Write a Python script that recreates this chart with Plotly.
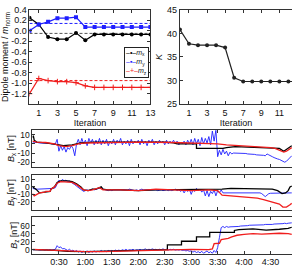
import numpy as np
import plotly.graph_objects as go

# ---------------- data ----------------
iterations = list(range(0, 14))
mx = [0.25, 0.12, -0.12, -0.16, -0.16, -0.04, -0.18, -0.07, -0.07, -0.07, -0.07, -0.07, -0.07, -0.07]
my = [0.0, 0.12, 0.17, 0.24, 0.24, 0.26, 0.07, 0.07, 0.07, 0.07, 0.07, 0.07, 0.07, 0.07]
mz = [-1.2, -0.91, -0.95, -0.97, -0.97, -0.99, -1.05, -1.08, -1.08, -1.08, -1.08, -1.08, -1.08, -1.08]
ref_mx, ref_my, ref_mz = -0.05, 0.14, -0.95
K = [40.8, 37.8, 37.5, 37.5, 37.5, 37.0, 30.6, 29.8, 29.8, 29.8, 29.8, 29.8, 29.8, 29.8]
legend_names = ["<i>m</i><sub>x</sub>", "<i>m</i><sub>y</sub>", "<i>m</i><sub>z</sub>"]

# time in minutes
bx_black_t = [0, 1, 2, 5, 15, 25, 30, 35, 45, 55, 70, 100, 130, 150, 160, 164, 186, 186, 216, 220, 230, 250, 270, 280, 285, 290, 294]
bx_black_v = [7, 9, 4, 2, 1, 0, -1, -2, -1, 1, 2, 2, 2, 2, 1, 0, 0, -5, -5, -4, -3, -3.5, -4, -5, -8, -5, -2]
bx_red_t = [0, 5, 15, 25, 30, 38, 45, 52, 60, 80, 120, 160, 190, 210, 220, 240, 250, 260, 270, 275, 280, 285, 288, 292, 294]
bx_red_v = [3, 2, 1.5, 0, -2, -3, -2, 0, 1, 1.5, 2, 1.5, 1, 0, -1, -2, -3, -3, -4, -5, -7, -9, -8, -5, -4]
bx_blue_v = [2, 2, 1.5, 1.5, 1, 1, 1, 1, 0.5, 0.5, 0.5, 0, 0, 0,
             5, -8, -2, -7, -3, -9, -4, -6, -2, -5,
             -13, 0, 5, -1, 6, 0, 4, -2, 6, 1,
             5, -1, 4, 0, 6, -1, 4, 0, 5, -2,
             3, 0, 5, -1, 4, 1, 6, -1, 3, 0,
             4, -2, 5, 0, 3, 1, 4, -1, 5, 0,
             3, -2, 4, 1, 5, -1, 3, 0, 4, 1,
             3, -1, 4, 0, 3, 1, 4, 0, 3, -1,
             2, 0, 3, -1, 4, 0, 5, -1, 6, 0,
             5, -2, 7, 0, 6, 1, 8, -1, 14, 3,
             15,
             -14, -7, -12, -6, -11, -8, -13, -9, -11, -10, -10,
             -10, -10, -10, -10, -10.5, -10.5, -11, -11, -11, -11.5, -11.5, -12, -12, -12, -12.5, -12.5,
             -13, -11, -12, -13.5, -14, -15, -16, -16.5, -17, -18, -19, -20, -19, -17, -15, -13]

by_black_t = [0, 4, 8, 14, 15, 20, 21, 25, 28, 32, 40, 45, 50, 55, 58, 63, 68, 72, 76, 78, 80, 85, 100, 120, 140, 160, 180, 200, 215, 225, 240, 255, 265, 272, 278, 283, 287, 290, 292, 294]
by_black_v = [0, -3, -8, -7, -6, -6, -3, 0, 6, 8, 8, 7, 4, 0, -4, -5, -3, -3, -1, 0, -3, -4, -4, -5, -4, -4, -4, -3, -3, -2, -2, -2, -2, -3, -5, -9, -8, -5, 0, 1]
by_red_t = [0, 2, 5, 8, 14, 15, 20, 21, 25, 28, 32, 40, 45, 50, 55, 58, 63, 68, 76, 80, 100, 120, 140, 160, 180, 200, 210, 215, 225, 235, 245, 255, 262, 268, 274, 280, 284, 288, 292, 294]
by_red_v = [-9, -12, -10, -8, -7, -6, -6, -3, 0, 5, 7, 7, 6, 3, -1, -4, -5, -4, -1, -4, -4, -5, -3, -4, -5, -4, -5, -11, -12, -13, -14, -15, -17, -19, -21, -23, -27, -27, -24, -22]
by_blue_v = [-2, -3, -3, -3, -3, -3, -3, -3, -3, -3, -3, -3, -2, -1,
             4, 9, 7, 10, 8, 9, 7, 8, 6, 5, 3, 1, -1, -3, -5, -6, -5, -4, -5, -4, -3, -4, -3, -2, -1, -1, -3, -4,
             -4, -5, -4, -5, -4, -4, -5, -4, -5, -4, -4, -5, -4, -3, -4, -4, -5, -4, -5, -4,
             -3, -4, -4, -3, -4, -4, -3, -4, -4, -5, -4, -4, -5, -4, -4, -5, -4, -5, -4, -3, -5, -4, -6, -4,
             -8, -4, -6, -3, -10, -4, -6, -2, -5, -3, -7, -4, -12, -5, -13, -6, -9, -4, -12, -5, -8, -4, -8,
             -8, -8, -8, -7.5, -7.5, -7.5, -7, -7, -7, -7, -7, -7, -7.5, -7.5, -7.5, -8, -8, -8, -8, -8, -8,
             -9, -11, -13, -11, -9, -8.5, -8.5, -8.5, -9, -9, -9, -9, -9, -9, -9, -8.5, -8, -8]

bz_black_t = [0, 10, 20, 30, 40, 60, 80, 100, 120, 140, 153, 153, 169, 169, 186, 186, 201, 201, 229, 229, 234, 250, 265, 280, 290, 294]
bz_black_v = [0, 0, -1, -2, -4, -5, -4, -3, -2, -1, 0, 12, 12, 21, 21, 32, 32, 43, 43, 48, 50, 52, 49, 51, 53, 56]
bz_red_t = [0, 10, 30, 40, 60, 80, 100, 120, 140, 160, 180, 200, 204, 206, 212, 214, 222, 226, 232, 240, 250, 260, 270, 280, 290, 294]
bz_red_v = [1, 0, -2, -4, -5, -5, -4, -2, -1, 0, 1, 0, 2, 15, 16, 25, 28, 32, 36, 38, 40, 39, 40, 41, 40, 38]
bz_blue_v = [0, 0, 1, 0, -1, 0, 0, -1, 0, -1, 0, -1, 0, 1,
             10, 5, 7, 2, 3, 0, -2, 1, -3, -1,
             -5, -2, -6, -3, -7, -4, -6, -3, -7, -4,
             -6, -3, -6, -4, -5, -2, -5, -3, -5, -2,
             -4, -2, -4, -1, -3, -1, -3, 0, -2, 1,
             -2, 0, -1, 1, -2, 0, -1, 1, -1, 0,
             2, -1, 1, 0, 2, 0, 1, -1, 1, 0,
             2, 0, 1, -1, 1, 0, 1, -1, 0, -1,
             0, -2, -1, -3, -2, -4, -3, -6, -4, -7,
             -5, -8, -4, -9, -6, -3, -8, -5, -9, -2,
             -7,
             5, 30, 55, 58, 55, 58, 56, 57, 57, 57, 58, 58, 58, 59, 59, 60, 60, 60, 61, 61, 61, 61,
             62, 62, 62, 62, 62, 63, 63, 62, 63, 63, 64, 64, 64, 65, 64, 65, 66, 65, 66, 66, 67]
blue_step = 2  # minutes between blue samples

time_tickvals = [30, 60, 90, 120, 150, 180, 210, 240, 270]
time_ticktext = ["0:30", "1:00", "1:30", "2:00", "2:30", "3:00", "3:30", "4:00", "4:30"]

# ---------------- styles ----------------
BLACK = "#000000"
BLUE = "#1f1fff"
RED = "#f01e1e"
FONT = "Arial, Liberation Sans, sans-serif"
W, H = 297, 269


def px_x(a, b):
    return [a / W, b / W]


def px_y(top, bottom):
    return [1 - bottom / H, 1 - top / H]


fig = go.Figure()

# ---- top-left: dipole moments ----
for v, col in [(ref_mx, "#555555"), (ref_my, BLUE), (ref_mz, RED)]:
    fig.add_trace(go.Scatter(x=[iterations[0], iterations[-1]], y=[v, v], mode="lines",
                             line=dict(color=col, width=1, dash="3px,2px"),
                             showlegend=False, hoverinfo="skip", xaxis="x", yaxis="y"))
fig.add_trace(go.Scatter(x=iterations, y=mx, mode="lines+markers", showlegend=False,
                         line=dict(color=BLACK, width=1.2), marker=dict(symbol="circle", size=4, color=BLACK),
                         xaxis="x", yaxis="y"))
fig.add_trace(go.Scatter(x=iterations, y=my, mode="lines+markers", showlegend=False,
                         line=dict(color=BLUE, width=1.2), marker=dict(symbol="square", size=4, color=BLUE),
                         xaxis="x", yaxis="y"))
fig.add_trace(go.Scatter(x=iterations, y=mz, mode="lines+markers", showlegend=False,
                         line=dict(color=RED, width=1.2),
                         marker=dict(symbol="cross-thin", size=4, color=RED, line=dict(color=RED, width=1)),
                         xaxis="x", yaxis="y"))

# ---- top-right: K ----
fig.add_trace(go.Scatter(x=iterations, y=K, mode="lines+markers", showlegend=False,
                         line=dict(color="#222222", width=1.2), marker=dict(symbol="circle", size=4, color="#222222"),
                         xaxis="x2", yaxis="y2"))

# ---- bottom: field components ----
panels = [
    ("3", bx_blue_v, bx_black_t, bx_black_v, bx_red_t, bx_red_v),
    ("4", by_blue_v, by_black_t, by_black_v, by_red_t, by_red_v),
    ("5", bz_blue_v, bz_black_t, bz_black_v, bz_red_t, bz_red_v),
]
for ax, bv, kt, kv, rt, rv in panels:
    bt = list(np.arange(len(bv)) * blue_step)
    fig.add_trace(go.Scatter(x=bt, y=bv, mode="lines", line=dict(color=BLUE, width=0.9),
                             showlegend=False, xaxis="x" + ax, yaxis="y" + ax))
    fig.add_trace(go.Scatter(x=kt, y=kv, mode="lines", line=dict(color=BLACK, width=1.3),
                             showlegend=False, xaxis="x" + ax, yaxis="y" + ax))
    fig.add_trace(go.Scatter(x=rt, y=rv, mode="lines", line=dict(color=RED, width=1.3),
                             showlegend=False, xaxis="x" + ax, yaxis="y" + ax))

# compact legend box (text based)
samples = [(BLACK, "–•–"), (BLUE, "–▪–"), (RED, "–+–")]
legend_text = "<br>".join(
    f'<span style="color:{c}">{s}</span><span style="color:#111111">{n}</span>'
    for (c, s), n in zip(samples, legend_names))
fig.add_annotation(x=152 / W, y=1 - 44 / H, xref="paper", yref="paper", xanchor="right", yanchor="top",
                   text=legend_text, showarrow=False, align="left",
                   font=dict(family=FONT, size=7, color="#111111"),
                   bgcolor="white", bordercolor="#222222", borderwidth=1, borderpad=1)

tickfont = dict(family=FONT, size=9, color="#111111")
btickfont = dict(family=FONT, size=8.5, color="#111111")
titlefont = dict(family=FONT, size=9, color="#111111")
common = dict(showline=True, linecolor="#333333", linewidth=1, ticks="inside", ticklen=3,
              tickcolor="#333333", showgrid=False, zeroline=False, tickfont=tickfont)
bcommon = dict(common, tickfont=btickfont)

it_ticks = [1, 3, 5, 7, 9, 11, 13]
fig.update_layout(
    width=W, height=H, margin=dict(l=0, r=0, t=0, b=0),
    paper_bgcolor="white", plot_bgcolor="white",
    font=dict(family=FONT, size=9),
    showlegend=False,
    xaxis=dict(domain=px_x(30, 153), range=[0, 13], anchor="y", mirror="ticks",
               tickvals=it_ticks, title=dict(text="Iteration", font=titlefont, standoff=2), **common),
    yaxis=dict(domain=px_y(5, 103), range=[-1.4, 0.4], anchor="x", mirror="ticks",
               tickvals=[0.4, 0.2, 0.0, -0.2, -0.4, -0.6, -0.8, -1.0, -1.2],
               ticktext=["0.4", "0.2", "0.0", "-0.2", "-0.4", "-0.6", "-0.8", "-1.0", "-1.2"],
               title=dict(text="Dipole moment / <i>m</i><sub>norm</sub>", font=titlefont, standoff=2), **common),
    xaxis2=dict(domain=px_x(183, 297), range=[0, 12.4], anchor="y2", mirror="ticks",
                tickvals=it_ticks, title=dict(text="Iteration", font=titlefont, standoff=2), **common),
    yaxis2=dict(domain=px_y(5, 103), range=[25, 45], anchor="x2", mirror=False,
                tickvals=[25, 30, 35, 40, 45],
                title=dict(text="<i>K</i>", font=titlefont, standoff=2), **common),
    xaxis3=dict(domain=px_x(33, 297), range=[0, 294.3], anchor="y3", mirror="ticks",
                tickvals=time_tickvals, showticklabels=False, **common),
    yaxis3=dict(domain=px_y(130, 168), range=[-25, 15], anchor="x3", mirror=False,
                tickvals=[10, 0, -10, -20], ticktext=["10", "0", "-10", "-20"],
                title=dict(text="<i>B</i><sub>x</sub> [nT]", font=titlefont, standoff=1), **bcommon),
    xaxis4=dict(domain=px_x(33, 297), range=[0, 294.3], anchor="y4", mirror="ticks",
                tickvals=time_tickvals, showticklabels=False, **common),
    yaxis4=dict(domain=px_y(176.5, 213), range=[-31, 16], anchor="x4", mirror=False,
                tickvals=[10, 0, -10, -20], ticktext=["10", "0", "-10", "-20"],
                title=dict(text="<i>B</i><sub>y</sub> [nT]", font=titlefont, standoff=1), **bcommon),
    xaxis5=dict(domain=px_x(33, 297), range=[0, 294.3], anchor="y5", mirror="ticks",
                tickvals=time_tickvals, ticktext=time_ticktext, **common),
    yaxis5=dict(domain=px_y(220, 258.3), range=[-10, 82], anchor="x5", mirror=False,
                tickvals=[60, 40, 20, 0], ticktext=["60", "40", "20", "0"],
                title=dict(text="<i>B</i><sub>z</sub> [nT]", font=titlefont, standoff=1), **bcommon),
)

fig.write_html("out.html")
